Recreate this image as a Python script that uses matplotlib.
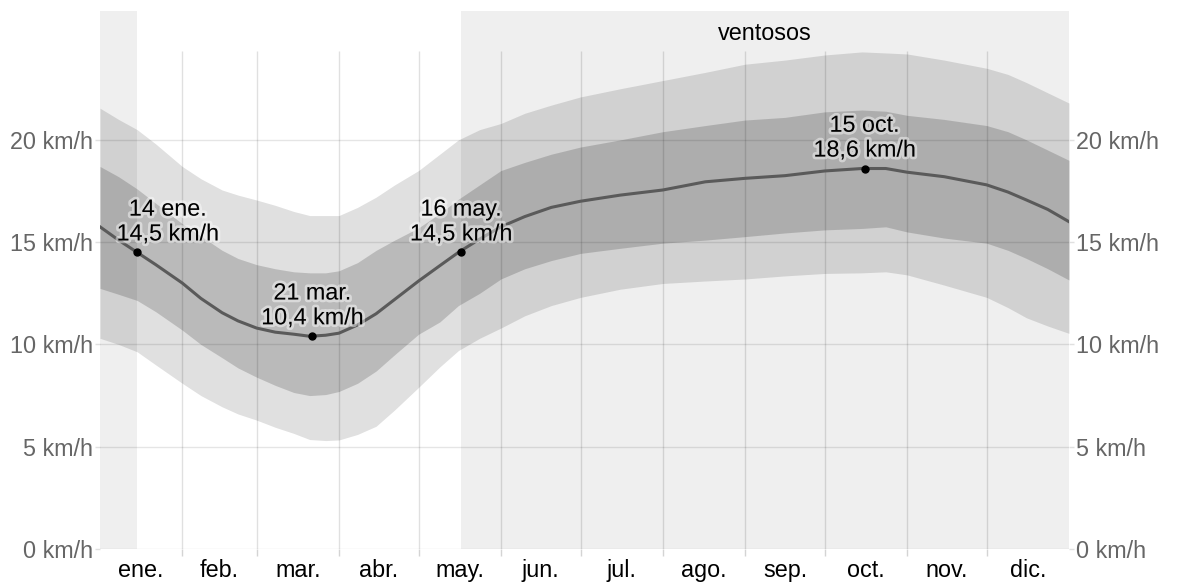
import matplotlib
matplotlib.use("Agg")
import matplotlib.pyplot as plt
import matplotlib.patheffects as pe

plt.rcParams['font.family'] = ['Liberation Sans', 'DejaVu Sans']

# day of year (Jan 1 = 1, axis runs 0..365)
days = [0, 7, 14, 21, 31, 38, 46, 52, 59, 66, 73, 79, 85, 90, 97, 104, 111, 120,
        128, 135, 143, 151, 160, 170, 181, 196, 212, 228, 243, 258, 273, 287,
        296, 304, 318, 334, 342, 349, 357, 365]

# average wind speed (km/h)
speed_avg = [15.75, 15.1, 14.5, 13.9, 13.0, 12.25, 11.55, 11.15, 10.8, 10.6, 10.5, 10.4,
             10.45, 10.55, 10.95, 11.5, 12.2, 13.1, 13.85, 14.5, 15.15, 15.75, 16.25,
             16.7, 17.0, 17.3, 17.55, 17.95, 18.12, 18.25, 18.48, 18.6, 18.6, 18.42,
             18.2, 17.8, 17.45, 17.06, 16.6, 16.0]

# 25th / 75th percentile band
speed_p25 = [12.74, 12.45, 12.15, 11.6, 10.7, 10.0, 9.35, 8.85, 8.4, 8.0, 7.65, 7.5,
             7.55, 7.7, 8.1, 8.7, 9.5, 10.5, 11.1, 11.9, 12.5, 13.2, 13.7, 14.1, 14.45,
             14.7, 14.95, 15.1, 15.27, 15.45, 15.6, 15.67, 15.75, 15.5, 15.2, 14.95,
             14.6, 14.2, 13.7, 13.15]
speed_p75 = [18.7, 18.2, 17.6, 16.9, 15.9, 15.3, 14.6, 14.2, 13.9, 13.7, 13.55, 13.5,
             13.5, 13.6, 14.0, 14.6, 15.1, 15.7, 16.4, 17.1, 17.8, 18.5, 18.9, 19.3,
             19.65, 20.0, 20.4, 20.7, 20.97, 21.1, 21.37, 21.46, 21.4, 21.2, 21.0, 20.7,
             20.4, 20.0, 19.5, 19.0]

# 10th / 90th percentile band
speed_p10 = [10.3, 10.0, 9.64, 9.0, 8.1, 7.5, 6.95, 6.6, 6.3, 5.95, 5.65, 5.35, 5.3,
             5.33, 5.6, 6.0, 6.8, 7.9, 8.9, 9.7, 10.3, 10.8, 11.4, 11.9, 12.3, 12.7,
             12.98, 13.1, 13.2, 13.35, 13.47, 13.5, 13.55, 13.4, 12.9, 12.3, 11.8, 11.3,
             10.9, 10.54]
speed_p90 = [21.55, 21.0, 20.5, 19.8, 18.7, 18.1, 17.55, 17.3, 17.06, 16.8, 16.5, 16.3,
             16.3, 16.3, 16.7, 17.2, 17.8, 18.5, 19.3, 20.0, 20.5, 20.8, 21.3, 21.7,
             22.1, 22.5, 22.9, 23.3, 23.7, 23.9, 24.15, 24.3, 24.25, 24.2, 23.9, 23.5,
             23.2, 22.8, 22.3, 21.8]

# windy season: 16 may -> 14 ene (wraps around the year)
windy_start = 136
windy_end = 14
windy_label = 'ventosos'

# annotated extremes
mark_days = [14, 80, 136, 288]
mark_values = [14.5, 10.4, 14.5, 18.6]
mark_labels = ['14 ene.\n14,5 km/h', '21 mar.\n10,4 km/h',
               '16 may.\n14,5 km/h', '15 oct.\n18,6 km/h']

month_edges = [0, 31, 59, 90, 120, 151, 181, 212, 243, 273, 304, 334, 365]
month_names = ['ene.', 'feb.', 'mar.', 'abr.', 'may.', 'jun.',
               'jul.', 'ago.', 'sep.', 'oct.', 'nov.', 'dic.']
y_ticks = [0, 5, 10, 15, 20]

FS = 16.8

fig = plt.figure(figsize=(11.79, 5.82), dpi=100)
ax = fig.add_axes([100 / 1179, 1 - 549 / 582, 969 / 1179, 538 / 582])
ymax = 26.3
ax.set_xlim(0, 365)
ax.set_ylim(0, ymax)
for s in ax.spines.values():
    s.set_visible(False)

# season shading
ax.axvspan(0, windy_end, color='#efefef', lw=0, zorder=0)
ax.axvspan(windy_start, 365, color='#efefef', lw=0, zorder=0)
ax.text((windy_start + 365) / 2, 25.2, windy_label, ha='center', va='center',
        fontsize=FS, color='black')

# percentile bands
ax.fill_between(days, speed_p10, speed_p90, color='black', alpha=0.12, lw=0, zorder=1)
ax.fill_between(days, speed_p25, speed_p75, color='black', alpha=0.17, lw=0, zorder=2)

# grid
grid_top = 24.35
for y in y_ticks:
    ax.axhline(y, color='black', alpha=0.1, lw=1, zorder=3)
ax.vlines(month_edges[1:-1], 0, grid_top, color='black', alpha=0.12, lw=1, zorder=3)

# average line
ax.plot(days, speed_avg, color='#5a5a5a', lw=2.2, zorder=4, solid_joinstyle='round')

# extremes; first label pushed right so it stays inside the plot
ax.plot(mark_days, mark_values, 'o', color='black', ms=5, zorder=5)
for i, (d, v, lab) in enumerate(zip(mark_days, mark_values, mark_labels)):
    dx = 22 if i == 0 else 0
    ax.annotate(lab, (d, v), xytext=(dx, 5), textcoords='offset points',
                ha='center', va='bottom', fontsize=FS, linespacing=1.1,
                color='black', zorder=6,
                path_effects=[pe.withStroke(linewidth=4, foreground='white', alpha=0.45)])

# x axis: month names centred, small ticks at month edges
centers = [(a + b) / 2 for a, b in zip(month_edges[:-1], month_edges[1:])]
ax.set_xticks(centers)
ax.set_xticklabels(month_names, fontsize=FS, color='black')
ax.tick_params(axis='x', which='major', length=0, pad=7)
ax.set_xticks(month_edges[1:-1], minor=True)
ax.tick_params(axis='x', which='minor', length=5, width=1, color='#d4d4d4')

# y axis both sides
ax.set_yticks(y_ticks)
ax.set_yticklabels([f'{y} km/h' for y in y_ticks])
ax.tick_params(axis='y', which='major', length=3.6, width=1, color='#e0e0e0',
               labelsize=FS, labelcolor='#666666', pad=1.5,
               left=True, right=True, labelleft=True, labelright=True)

fig.savefig('out.png', dpi=100)
